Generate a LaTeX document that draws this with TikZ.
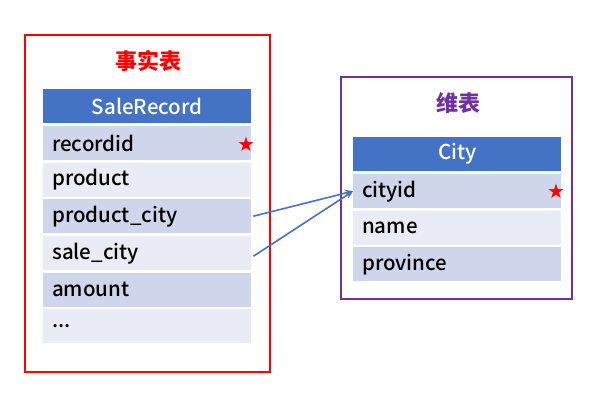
\documentclass[tikz,border=0pt]{standalone}
\usepackage{fontspec}
\setmainfont{Noto Sans CJK SC}[UprightFont={* Medium}, BoldFont={* Bold}]
\newfontfamily\cjk{Noto Sans CJK SC}
\newfontfamily\symb{DejaVu Sans}
\usetikzlibrary{positioning,calc,arrows.meta}

\definecolor{hdrblue}{HTML}{4472C4}
\definecolor{rowdark}{HTML}{CFD5EA}
\definecolor{rowlight}{HTML}{E9EBF5}
\definecolor{dimpurple}{HTML}{7030A0}

\tikzset{
    hdr/.style={fill=hdrblue, text=white, minimum width=208pt, minimum height=34pt,
        inner sep=0pt, anchor=north west, font=\fontsize{20.5}{22}\selectfont},
    rowa/.style={fill=rowdark, minimum width=208pt, minimum height=34pt, inner sep=0pt,
        anchor=north west, text width=190pt, align=left, font=\fontsize{20.5}{22}\selectfont},
    rowb/.style={rowa, fill=rowlight},
    keystar/.style={text=red, font=\symb\fontsize{20}{22}\selectfont, inner sep=0pt},
    link/.style={-{Stealth[length=8pt,width=7pt]}, line width=1.6pt, draw=hdrblue}
}

\begin{document}
\begin{tikzpicture}[x=1pt, y=-1pt]
    \useasboundingbox (0,0) rectangle (593,407);

    % Fact table frame
    \draw[red, line width=2pt] (25,35) rectangle (270,372);
    \node[text=red, font=\cjk\bfseries\fontsize{22}{24}\selectfont] (facttitle) at (148,61) {事实表};

    % SaleRecord columns
    \node[hdr] (sale) at (43,89) {SaleRecord};
    \node[rowa] (recordid) at (43,126) {recordid};
    \node[rowb] (product) at (43,162.5) {product};
    \node[rowa] (pcity) at (43,199) {product\_city};
    \node[rowb] (scity) at (43,236) {sale\_city};
    \node[rowa] (amount) at (43,272.5) {amount};
    \node[rowb] (more) at (43,309) {...};
    \node[keystar] (recstar) at (246,144) {★};

    % Dimension table frame
    \draw[dimpurple, line width=2pt] (341,77) rectangle (572,299);
    \node[text=dimpurple, font=\cjk\bfseries\fontsize{22}{24}\selectfont] (dimtitle) at (458,103) {维表};

    % City columns
    \node[hdr] (city) at (353,137) {City};
    \node[rowa] (cityid) at (353,174) {cityid};
    \node[rowb] (name) at (353,210.5) {name};
    \node[rowa] (province) at (353,247) {province};
    \node[keystar] (citystar) at (556,191) {★};

    % Foreign keys
    \draw[link] ([xshift=2pt]pcity.east) -- (cityid.west);
    \draw[link] ([xshift=2pt,yshift=-3pt]scity.east) -- (cityid.west);
\end{tikzpicture}
\end{document}
